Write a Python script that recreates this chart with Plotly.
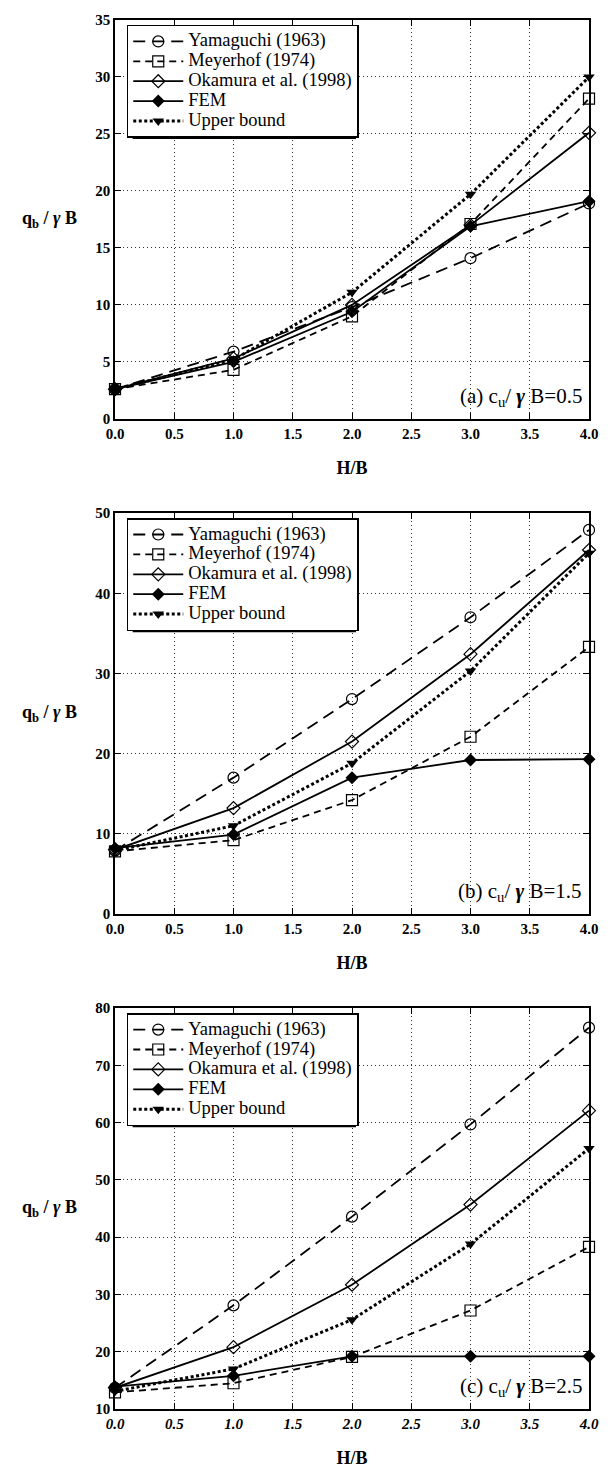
import plotly.graph_objects as go

# Normalised embedment depth H/B
HB = [0.0, 1.0, 2.0, 3.0, 4.0]
x_ticks = [0.0, 0.5, 1.0, 1.5, 2.0, 2.5, 3.0, 3.5, 4.0]

series_names = ["Yamaguchi (1963)", "Meyerhof (1974)", "Okamura et al. (1998)", "FEM", "Upper bound"]

# (a) cu/γB = 0.5
yamaguchi_a = [2.6, 5.9, 9.8, 14.1, 18.9]
meyerhof_a = [2.6, 4.3, 9.0, 17.1, 28.1]
okamura_a = [2.6, 5.3, 10.0, 17.0, 25.1]
fem_a = [2.6, 5.0, 9.4, 16.9, 19.1]
upper_a = [2.6, 5.2, 11.1, 19.7, 30.0]

# (b) cu/γB = 1.5
yamaguchi_b = [7.9, 17.0, 26.8, 37.0, 47.9]
meyerhof_b = [7.8, 9.2, 14.2, 22.1, 33.3]
okamura_b = [8.0, 13.2, 21.5, 32.4, 45.4]
fem_b = [8.2, 9.9, 17.0, 19.2, 19.3]
upper_b = [7.9, 11.0, 18.8, 30.3, 45.0]

# (c) cu/γB = 2.5
yamaguchi_c = [13.7, 28.1, 43.6, 59.7, 76.6]
meyerhof_c = [12.9, 14.5, 19.1, 27.2, 38.3]
okamura_c = [13.7, 20.8, 31.7, 45.7, 62.1]
fem_c = [13.9, 15.8, 19.2, 19.2, 19.2]
upper_c = [13.1, 17.0, 25.6, 38.8, 55.5]

panels = [
    ("x", "y", "legend", "(a) c<sub>u</sub>/ <b><i>γ</i></b> B=0.5",
     [yamaguchi_a, meyerhof_a, okamura_a, fem_a, upper_a]),
    ("x2", "y2", "legend2", "(b) c<sub>u</sub>/ <b><i>γ</i></b> B=1.5",
     [yamaguchi_b, meyerhof_b, okamura_b, fem_b, upper_b]),
    ("x3", "y3", "legend3", "(c) c<sub>u</sub>/ <b><i>γ</i></b> B=2.5",
     [yamaguchi_c, meyerhof_c, okamura_c, fem_c, upper_c]),
]

SERIF = "Liberation Serif"

styles = [
    dict(line=dict(color="black", width=1.8, dash="12px,7px"),
         marker=dict(symbol="circle-open", size=11, color="black", line=dict(width=1.2))),
    dict(line=dict(color="black", width=1.8, dash="7px,5px"),
         marker=dict(symbol="square-open", size=11, color="black", line=dict(width=1.2))),
    dict(line=dict(color="black", width=1.8),
         marker=dict(symbol="diamond-open", size=10, color="black", line=dict(width=1.2))),
    dict(line=dict(color="black", width=1.8),
         marker=dict(symbol="diamond", size=10, color="black")),
    dict(line=dict(color="black", width=3, dash="3px,2.5px"),
         marker=dict(symbol="triangle-down", size=10, color="black")),
]

# legend rows are spaced by the (small) legend font; entry text is set larger
LEGEND_ROW_FONT = 13
LEGEND_TEXT_PX = 18.5

fig = go.Figure()
for xa, ya, lg, _, vals in panels:
    for name, v, st in zip(series_names, vals, styles):
        fig.add_trace(go.Scatter(
            x=HB, y=v, mode="lines+markers",
            name=f'<span style="font-size:{LEGEND_TEXT_PX}px">{name}</span>',
            xaxis=xa, yaxis=ya, legend=lg, cliponaxis=False, **st))

# plot-area pixel geometry
W, H = 611, 1477
L, R, T, B = 115, 12, 18, 59
PW, PH = W - L - R, H - T - B


def px_x(p):
    return (p - L) / PW


def px_y(p):
    return 1 - (p - T) / PH


panel_px = [(18, 420), (515, 919), (1014, 1418)]
y_ranges = [(0, 35, 5), (0, 50, 10), (10, 80, 10)]

# legend box size (px) used for its drop shadow
LEG_LEFT, LEG_W, LEG_H, LEG_DY = 127, 230, 110, 5

axis_common = dict(
    showline=True, linecolor="black", linewidth=1.5, mirror="ticks",
    ticks="inside", ticklen=6, tickcolor="black", tickwidth=1.2,
    showgrid=True, gridcolor="#333333", gridwidth=1, griddash="1px,3px",
    zeroline=False,
)

layout = dict(
    width=W, height=H, autosize=False,
    margin=dict(l=L, r=R, t=T, b=B),
    paper_bgcolor="white", plot_bgcolor="white",
    showlegend=True,
    font=dict(family=SERIF, color="black"),
)

annotations = []
shapes = []
for i, ((top, bot), (y0, y1, dy), (xa, ya, lg, label, _)) in enumerate(zip(panel_px, y_ranges, panels)):
    sfx = "" if i == 0 else str(i + 1)
    tick_font = dict(family=SERIF, size=15, color="black", weight="bold")
    xfont = dict(tick_font)
    if i == 2:
        xfont["style"] = "italic"
    layout["xaxis" + sfx] = dict(
        axis_common, domain=[0, 1], anchor="y" + sfx, range=[0, 4],
        tickvals=x_ticks, ticktext=[f"{t:.1f}" for t in x_ticks],
        tickfont=xfont,
        title=dict(text="H/B", font=dict(family=SERIF, size=18, color="black", weight="bold"), standoff=21),
    )
    layout["yaxis" + sfx] = dict(
        axis_common, domain=[px_y(bot), px_y(top)], anchor="x" + sfx,
        range=[y0, y1], dtick=dy, tick0=y0, tickfont=tick_font,
    )
    leg_top = top + LEG_DY
    layout[lg] = dict(
        x=px_x(LEG_LEFT), y=px_y(leg_top), xanchor="left", yanchor="top",
        bgcolor="white", bordercolor="black", borderwidth=1.5,
        font=dict(family=SERIF, size=LEGEND_ROW_FONT, color="black"),
        tracegroupgap=0, itemwidth=50,
    )
    # drop shadow behind the legend box
    shapes.append(dict(
        type="rect", xref="paper", yref="paper", layer="above",
        x0=px_x(LEG_LEFT + 6), x1=px_x(LEG_LEFT + LEG_W + 4),
        y0=px_y(leg_top + LEG_H + 5), y1=px_y(leg_top + 8),
        fillcolor="black", line=dict(width=0),
    ))
    mid = (top + bot) / 2
    annotations.append(dict(
        x=px_x(48), y=px_y(mid), xref="paper", yref="paper", showarrow=False,
        xanchor="center", yanchor="middle",
        text="<b>q<sub>b</sub> / <i>γ</i> B</b>",
        font=dict(family=SERIF, size=18, color="black"),
    ))
    annotations.append(dict(
        x=px_x(594), y=px_y(bot - 22), xref="paper", yref="paper", showarrow=False,
        xanchor="right", yanchor="middle", text=label,
        font=dict(family=SERIF, size=21, color="black"),
    ))

layout["annotations"] = annotations
layout["shapes"] = shapes
fig.update_layout(**layout)
fig.write_html("out.html")
